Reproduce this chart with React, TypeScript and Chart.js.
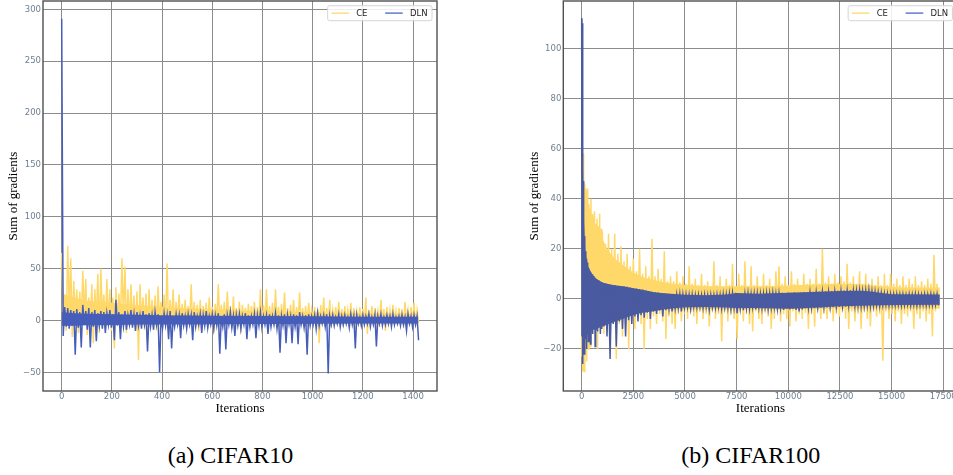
import React, { useEffect, useRef } from 'react';
import { Chart, registerables } from 'chart.js';

Chart.register(...registerables);

// ---------------- (a) CIFAR10 ----------------
// spikes: high and low excursion inside each bin of 12 iterations
const L_STEP = 12;
const ceHiL = [
  65, 25, 72, 60, 38, 30, 28, 48, 40, 22,
  35, 30, 45, 50, 25, 40, 30, 22, 32, 26,
  60, 52, 30, 35, 24, 28, 35, 22, 26, 30,
  20, 24, 33, 18, 25, 55, 20, 30, 18, 25,
  16, 20, 14, 35, 18, 15, 20, 14, 17, 22,
  13, 16, 35, 15, 18, 28, 14, 23, 12, 18,
  15, 12, 16, 14, 18, 13, 30, 15, 30, 14,
  17, 30, 13, 16, 27, 12, 15, 20, 13, 27,
  12, 14, 17, 10, 13, 11, 15, 22, 12, 20,
  10, 13, 18, 11, 14, 10, 17, 12, 9, 13,
  11, 22, 10, 14, 12, 9, 20, 11, 13, 10,
  15, 9, 12, 11, 18, 10, 13, 17, 10,
];
const ceLoL = [
  5, -10, 8, -16, 2, -12, -5, 4, -14, -6,
  -22, 0, -12, 3, -8, -5, -10, -27, -4, -8,
  2, -12, -5, -3, -10, -38, -4, -8, -18, -3,
  -6, -10, -2, -8, -4, -10, -3, -6, -2, -9,
  -4, -7, -2, -8, -3, -10, -4, -2, -7, -3,
  -12, -2, -6, -3, -5, -2, -8, -3, -5, -12,
  -2, -4, -7, -2, -5, -3, -10, -2, -6, -3,
  -5, -2, -7, -3, -8, -2, -4, -6, -2, -5,
  -3, -6, -2, -4, -3, -22, -2, -5, -3, -7,
  -2, -4, -3, -6, -2, -5, -3, -4, -2, -6,
  -3, -13, -2, -4, -3, -6, -2, -10, -3, -4,
  -2, -5, -3, -7, -2, -4, -3, -5, -2,
];
const dlnHiL = [
  291, 13, 12, 10, 9, 11, 8, 15, 9, 12,
  8, 10, 7, 9, 8, 7, 10, 6, 20, 8,
  6, 9, 5, 10, 6, 8, 5, 9, 6, 7,
  5, 8, 6, 4, 7, 5, 9, 4, 6, 5,
  7, 4, 6, 5, 8, 4, 6, 5, 9, 4,
  6, 5, 7, 4, 6, 5, 8, 4, 5, 6,
  4, 7, 5, 4, 6, 5, 8, 4, 5, 6,
  4, 7, 5, 4, 6, 5, 4, 6, 5, 8,
  4, 5, 6, 4, 5, 7, 4, 5, 6, 4,
  5, 3, 6, 4, 5, 3, 6, 4, 5, 3,
  5, 4, 6, 3, 5, 4, 6, 3, 5, 4,
  6, 3, 4, 5, 3, 6, 4, 5, 4,
];
const dlnLoL = [
  -15, -6, -8, -5, -33, -7, -26, -4, -9, -26,
  -6, -20, -5, -8, -12, -4, -7, -19, -5, -18,
  -6, -9, -4, -7, -10, -5, -8, -4, -30, -6,
  -9, -4, -50, -7, -5, -18, -27, -6, -4, -17,
  -5, -8, -4, -19, -6, -4, -12, -5, -7, -4,
  -8, -5, -32, -6, -28, -4, -7, -15, -5, -8,
  -4, -18, -6, -4, -17, -5, -7, -4, -13, -6,
  -4, -8, -31, -5, -22, -4, -22, -6, -23, -4,
  -7, -33, -5, -4, -8, -5, -3, -6, -51, -4,
  -5, -3, -6, -4, -3, -7, -4, -27, -3, -5,
  -4, -3, -6, -4, -25, -3, -5, -4, -3, -6,
  -4, -3, -5, -4, -10, -3, -6, -4, -19,
];
// dense core of each series (envelope of the bulk of the noise)
const bandIterL = [0, 50, 100, 200, 300, 400, 600, 800, 1000, 1200, 1421];
const ceBandTopL = [26, 22, 19, 17, 15, 13, 10.5, 9, 8, 7, 6.5];
const ceBandBotL = [-4.5, -4.5, -4, -4, -3.5, -3.5, -3, -3, -2.5, -2.5, -2.5];
const dlnBandTopL = [8, 7, 6.5, 6, 5.5, 5, 4.5, 4.2, 4, 3.7, 3.5];
const dlnBandBotL = [-5, -5, -4.5, -4.3, -4, -4, -3.6, -3.4, -3.2, -3, -3];
const leftXTicks = [0, 200, 400, 600, 800, 1000, 1200, 1400];
const leftYTicks = [-50, 0, 50, 100, 150, 200, 250, 300];

// ---------------- (b) CIFAR100 ----------------
const rEarlyIter = [0, 25, 50, 75, 100, 140, 180, 220, 260, 300, 350, 400, 450, 500, 560, 620, 680, 740, 800, 870, 940];
const R_LATE_START = 1000;
const R_LATE_STEP = 150;
const R_LATE_COUNT = 109;
const ceHiR = [
  54, 56, 50, 58, 52, 46, 44, 43, 40, 44, 38, 36, 40, 34, 33, 35, 30, 32, 29, 34, 28,
  27, 22, 26, 20, 26, 18, 21, 15, 18, 13,
  16, 11, 20, 10, 13, 9, 24, 9, 12, 8,
  19, 7, 9, 7, 11, 6.5, 9, 6, 13, 6,
  8, 5.5, 10, 5.5, 7, 5, 15, 5.5, 9, 5,
  8, 5.5, 14, 5, 10, 5.5, 15, 5, 13, 5.5,
  9, 5, 10, 5.5, 8, 5, 11, 13, 6, 9,
  5.5, 11, 6, 8, 5.5, 10, 6, 8, 6, 12,
  6, 20, 6.5, 9, 6, 10, 6.5, 9, 7, 14,
  6.5, 9, 6, 11, 6, 10, 6, 8, 5.5, 9,
  5.5, 10, 5.5, 10, 6, 8, 5.5, 9, 5.5, 8,
  6, 9, 5.5, 7, 5.5, 8, 6, 17.6, 6,
];
const ceLoR = [
  -23, -28, -29, -27, -29, -22, -18, -25, -15, -20, -12, -19, -10, -14, -9, -12, -8, -20, -10, -8, -12,
  -14, -10, -18, -9, -24, -10, -15, -8, -20, -9,
  -12, -7, -10, -20, -8, -12, -7, -10, -6, -9,
  -16, -7, -10, -12, -6, -9, -6, -8, -5.5, -7,
  -10, -5, -8, -6, -11, -5, -8, -6, -17, -5,
  -9, -6, -8, -16, -5, -9, -6, -10, -13, -5,
  -8, -10, -5, -7, -12, -8, -5, -9, -6, -8,
  -11, -5, -9, -6, -8, -5.5, -12, -6, -11, -5,
  -8, -6, -8, -5, -9, -6, -7, -5, -8, -12,
  -5, -9, -6, -12, -5, -8, -11, -5, -7, -6,
  -24.7, -5, -8, -6, -9, -5, -10, -6, -7, -5,
  -12, -6, -8, -5, -9, -6, -15, -5, -4,
];
const dlnHiR = [
  112, 110, 66, 47, 34, 25, 19, 16, 14.5, 13.3, 12.2, 11.2, 10.5, 9.8, 9, 8.5, 8.1, 7.7, 7.3, 7, 6.7,
  6.4, 6.0, 5.8, 5.6, 5.5, 5.1, 5.0, 4.9, 4.8, 4.5,
  4.2, 4.1, 3.8, 3.7, 3.3, 3.1, 2.8, 2.6, 2.5, 2.3,
  2.2, 2.0, 1.9, 1.9, 1.7, 1.8, 1.6, 1.7, 1.5, 1.6,
  1.4, 1.5, 1.4, 1.6, 1.3, 1.5, 1.4, 1.6, 1.5, 1.8,
  1.7, 2.0, 2.2, 2.4, 2.3, 2.1, 2.0, 2.2, 1.9, 2.0,
  2.1, 1.9, 2.0, 2.2, 2.1, 2.3, 2.0, 2.2, 2.4, 2.3,
  2.5, 2.4, 2.6, 2.4, 2.5, 2.7, 2.5, 2.6, 2.8, 2.6,
  2.9, 2.8, 3.0, 2.8, 3.1, 2.9, 3.2, 3.1, 3.3, 3.2,
  3.4, 3.2, 3.1, 3.3, 3.0, 3.2, 3.4, 2.9, 2.7, 2.5,
  2.3, 2.1, 2.0, 1.9, 1.8, 1.9, 1.7, 1.8, 1.6, 1.8,
  1.7, 1.9, 1.7, 1.6, 1.8, 1.7, 1.9, 1.6, 1.8,
];
const dlnLoR = [
  -15, -24, -26, -20, -22, -18, -16, -20, -14, -17, -13, -18, -12, -14, -12, -19, -12, -13, -11, -14, -12,
  -11, -15, -24, -10, -19, -9, -12, -15, -8.5, -10,
  -7, -9, -6.5, -7.5, -5.5, -8, -5, -6, -4.6, -7,
  -4.5, -4, -5, -3.8, -3.6, -5, -3.5, -3.3, -4, -3.2,
  -3.4, -3.1, -3.6, -3.2, -4.2, -3.3, -3.5, -3.2, -3.8, -3.4,
  -3.6, -4.0, -3.5, -5.7, -3.8, -4.5, -3.6, -3.8, -3.4, -4.2,
  -3.5, -3.7, -3.3, -3.9, -3.5, -3.4, -4.0, -3.6, -4.4, -3.8,
  -4.2, -3.9, -4.4, -5.0, -4.2, -3.8, -3.6, -3.4, -3.7, -3.3,
  -3.5, -3.2, -3.4, -3.1, -3.3, -3.0, -3.2, -2.9, -3.1, -2.8,
  -3.0, -2.9, -2.7, -3.0, -2.8, -2.6, -2.9, -2.7, -2.5, -2.8,
  -2.6, -2.4, -2.7, -2.5, -2.6, -2.4, -2.7, -2.5, -2.3, -2.6,
  -2.4, -2.7, -2.5, -2.3, -2.6, -2.4, -2.5, -2.3, -2.6,
];
const ceBandIterR = [0, 100, 200, 400, 600, 800, 1000, 1300, 1600, 2000, 2500, 3000, 3500, 4000, 5000, 6000, 7500, 9000, 10000, 11500, 12500, 13500, 14500, 15500, 17336];
const ceBandTopR = [50, 48, 40, 33, 30, 27, 24, 19, 16, 13.5, 10.5, 8.5, 7.5, 6.5, 5.5, 5, 5, 5, 5.3, 5.8, 6, 5.8, 5, 4.5, 4.5];
const ceBandBotR = [-22, -20, -15, -12, -11.5, -11, -10.5, -9.5, -8.5, -7.5, -6, -5, -4.6, -4.4, -4.2, -4.2, -4.2, -4.2, -4.2, -4.1, -4, -3.9, -3.9, -3.9, -3.9];
const dlnBandIterR = [0, 30, 50, 75, 100, 140, 180, 250, 350, 500, 700, 1000, 1500, 2000, 2500, 3000, 3500, 4000, 5000, 6000, 7000, 7500, 8500, 10000, 11500, 12500, 13500, 14000, 14500, 15000, 17336];
const dlnBandTopR = [100, 100, 60, 45, 33, 25, 19, 15, 12, 9.8, 8, 6.5, 5.5, 5, 4.2, 3.5, 2.6, 2.2, 1.6, 1.4, 1.7, 2.3, 2, 2.4, 2.8, 3.1, 3.2, 2.9, 2.3, 1.8, 1.7];
const dlnBandBotR = [-12, -13, -14, -14, -14, -14, -13.5, -13, -13, -12.5, -12, -11, -9.5, -8, -6.5, -5.5, -5, -4.2, -3.4, -3.3, -3.5, -3.7, -3.7, -4.0, -3.5, -3.0, -2.8, -2.7, -2.6, -2.5, -2.4];
const rightXTicks = [0, 2500, 5000, 7500, 10000, 12500, 15000, 17500];
const rightYTicks = [-20, 0, 20, 40, 60, 80, 100];

const seriesLabels = ['CE', 'DLN'];
const captions = ['(a) CIFAR10', '(b) CIFAR100'];

// ---------------- styling ----------------
const CE_COLOR = 'rgb(255,216,106)';
const DLN_LEFT = 'rgb(70,94,186)';
const DLN_RIGHT = 'rgb(74,90,160)';
const DLN_LEGEND = 'rgb(74,100,200)';
const TICK_COLOR = '#6f7f8f';
const GRID_COLOR = '#8c8c8c';
const TICK_FONT = { family: "'DejaVu Sans', sans-serif", size: 8.5 };
const TITLE_FONT = { family: "'Liberation Serif', serif", size: 13 };

type Pt = { x: number; y: number };

function zigzag(iters: number[], hi: number[], lo: number[], tail: number) {
  const pts: Pt[] = [];
  for (let i = 0; i < hi.length; i++) {
    const x = iters[i];
    const xn = i + 1 < iters.length ? iters[i + 1] : x + tail;
    pts.push({ x, y: hi[i] });
    pts.push({ x: (x + xn) / 2, y: lo[i] });
  }
  return pts;
}

const pairs = (xs: number[], ys: number[]): Pt[] => xs.map((x, i) => ({ x, y: ys[i] }));

const fmt = (v: number) => (v < 0 ? '\u2212' + Math.abs(v) : String(v));

function zeroPad(s: any) {
  s.paddingTop = 0;
  s.paddingBottom = 0;
  s.paddingLeft = 0;
  s.paddingRight = 0;
}

function makePlugin(items: { label: string; color: string }[]) {
  return {
    id: 'frameLegend',
    afterDraw(chart: any) {
      const { ctx, chartArea: a } = chart;
      ctx.save();
      ctx.strokeStyle = '#505050';
      ctx.lineWidth = 1.4;
      ctx.strokeRect(a.left, a.top, a.right - a.left, a.bottom - a.top);
      ctx.font = "8.5px 'DejaVu Sans', sans-serif";
      const lineLen = 17.6, gapLT = 7.2, gapItems = 17.7, padL = 3.7, padR = 4.4;
      let total = padL;
      items.forEach((it, i) => {
        total += lineLen + gapLT + ctx.measureText(it.label).width;
        if (i < items.length - 1) total += gapItems;
      });
      total += padR;
      const bx = a.right - 5 - total;
      const by = a.top + 4.7;
      const bh = 15;
      ctx.beginPath();
      if (ctx.roundRect) ctx.roundRect(bx, by, total, bh, 2);
      else ctx.rect(bx, by, total, bh);
      ctx.fillStyle = 'rgba(255,255,255,0.85)';
      ctx.fill();
      ctx.strokeStyle = '#d6d6d6';
      ctx.lineWidth = 1;
      ctx.stroke();
      let x = bx + padL;
      const cy = by + 7.4;
      items.forEach((it) => {
        ctx.strokeStyle = it.color;
        ctx.lineWidth = 1.3;
        ctx.beginPath();
        ctx.moveTo(x, cy);
        ctx.lineTo(x + lineLen, cy);
        ctx.stroke();
        ctx.fillStyle = '#262626';
        ctx.textBaseline = 'middle';
        ctx.textAlign = 'left';
        const tx = x + lineLen + gapLT;
        ctx.fillText(it.label, tx, cy + 0.5);
        x = tx + ctx.measureText(it.label).width + gapItems;
      });
      ctx.restore();
    },
  };
}

interface PanelProps {
  width: number;
  height: number;
  areaLeft: number;
  areaRight: number;
  areaTop: number;
  areaBottom: number;
  yTitleCenter: number;
  xMin: number;
  xMax: number;
  yMin: number;
  yMax: number;
  xTicks: number[];
  yTicks: number[];
  ce: Pt[];
  dln: Pt[];
  ceTop: Pt[];
  ceBot: Pt[];
  dlnTop: Pt[];
  dlnBot: Pt[];
  dlnColor: string;
}

function Panel(p: PanelProps) {
  const ref = useRef<HTMLCanvasElement | null>(null);
  useEffect(() => {
    if (!ref.current) return;
    const xAxisH = p.height - p.areaBottom;
    const line = { pointRadius: 0, tension: 0, borderWidth: 1.5 };
    const band = { pointRadius: 0, tension: 0, borderWidth: 0 };
    const chart = new Chart(ref.current, {
      type: 'line',
      data: {
        datasets: [
          { label: seriesLabels[0], data: p.ce, borderColor: CE_COLOR, fill: false, order: 3, ...line },
          { label: seriesLabels[1], data: p.dln, borderColor: p.dlnColor, fill: false, order: 1, ...line },
          { label: 'ce-core', data: p.ceTop, borderColor: CE_COLOR, backgroundColor: CE_COLOR, fill: '+1', order: 4, ...band },
          { label: 'ce-core-bottom', data: p.ceBot, borderColor: CE_COLOR, fill: false, order: 4, ...band },
          { label: 'dln-core', data: p.dlnTop, borderColor: p.dlnColor, backgroundColor: p.dlnColor, fill: '+1', order: 2, ...band },
          { label: 'dln-core-bottom', data: p.dlnBot, borderColor: p.dlnColor, fill: false, order: 2, ...band },
        ],
      },
      options: {
        responsive: false,
        animation: false,
        events: [],
        layout: { padding: { left: 0, top: p.areaTop, right: p.width - p.areaRight, bottom: 0 } },
        plugins: { legend: { display: false }, tooltip: { enabled: false } },
        scales: {
          x: {
            type: 'linear',
            position: 'bottom',
            min: p.xMin,
            max: p.xMax,
            afterBuildTicks: (s: any) => {
              s.ticks = p.xTicks.map((v) => ({ value: v }));
            },
            afterFit: (s: any) => {
              s.height = xAxisH;
              zeroPad(s);
            },
            grid: { color: GRID_COLOR, lineWidth: 1, drawTicks: false },
            border: { display: false },
            ticks: { padding: 1, font: TICK_FONT, color: TICK_COLOR, maxRotation: 0, autoSkip: false, callback: (v: any) => fmt(Number(v)) },
            title: { display: true, text: 'Iterations', font: TITLE_FONT, color: '#000', padding: { top: 0, bottom: 13.7 } },
          },
          y: {
            type: 'linear',
            position: 'left',
            min: p.yMin,
            max: p.yMax,
            afterBuildTicks: (s: any) => {
              s.ticks = p.yTicks.map((v) => ({ value: v }));
            },
            afterFit: (s: any) => {
              s.width = p.areaLeft;
              zeroPad(s);
            },
            grid: { color: GRID_COLOR, lineWidth: 1, drawTicks: false },
            border: { display: false },
            ticks: { padding: 2, font: TICK_FONT, color: TICK_COLOR, autoSkip: false, callback: (v: any) => fmt(Number(v)) },
            title: { display: true, text: 'Sum of gradients', font: TITLE_FONT, color: '#000', padding: { top: p.yTitleCenter - 7.8, bottom: 0 } },
          },
        },
      } as any,
      plugins: [
        makePlugin([
          { label: seriesLabels[0], color: CE_COLOR },
          { label: seriesLabels[1], color: DLN_LEGEND },
        ]),
      ],
    });
    return () => chart.destroy();
  }, []);
  return <canvas ref={ref} width={p.width} height={p.height} style={{ display: 'block', width: p.width, height: p.height }} />;
}

const leftIters = ceHiL.map((_, k) => k * L_STEP);
const rightIters = [
  ...rEarlyIter,
  ...Array.from({ length: R_LATE_COUNT }, (_, i) => R_LATE_START + i * R_LATE_STEP),
];

export default function App() {
  const captionStyle: React.CSSProperties = {
    position: 'absolute',
    top: 443,
    width: 240,
    textAlign: 'center',
    fontFamily: "'Liberation Serif', 'Times New Roman', serif",
    fontSize: 24,
    lineHeight: '24px',
    color: '#000',
    whiteSpace: 'nowrap',
  };
  return (
    <div style={{ position: 'fixed', left: 0, top: 0, width: 953, height: 475, overflow: 'hidden', background: '#fff' }}>
      <div style={{ position: 'absolute', left: 0, top: 0 }}>
        <Panel
          width={480}
          height={430}
          areaLeft={43}
          areaRight={437}
          areaTop={1}
          areaBottom={391}
          yTitleCenter={14}
          xMin={-74.5}
          xMax={1495.5}
          yMin={-68}
          yMax={308}
          xTicks={leftXTicks}
          yTicks={leftYTicks}
          ce={zigzag(leftIters, ceHiL, ceLoL, L_STEP)}
          dln={zigzag(leftIters, dlnHiL, dlnLoL, L_STEP)}
          ceTop={pairs(bandIterL, ceBandTopL)}
          ceBot={pairs(bandIterL, ceBandBotL)}
          dlnTop={pairs(bandIterL, dlnBandTopL)}
          dlnBot={pairs(bandIterL, dlnBandBotL)}
          dlnColor={DLN_LEFT}
        />
      </div>
      <div style={{ position: 'absolute', left: 480, top: 0 }}>
        <Panel
          width={500}
          height={430}
          areaLeft={83.3}
          areaRight={477.5}
          areaTop={1}
          areaBottom={391}
          yTitleCenter={54.7}
          xMin={-890}
          xMax={18190}
          yMin={-36.8}
          yMax={118.9}
          xTicks={rightXTicks}
          yTicks={rightYTicks}
          ce={zigzag(rightIters, ceHiR, ceLoR, R_LATE_STEP)}
          dln={zigzag(rightIters, dlnHiR, dlnLoR, R_LATE_STEP)}
          ceTop={pairs(ceBandIterR, ceBandTopR)}
          ceBot={pairs(ceBandIterR, ceBandBotR)}
          dlnTop={pairs(dlnBandIterR, dlnBandTopR)}
          dlnBot={pairs(dlnBandIterR, dlnBandBotR)}
          dlnColor={DLN_RIGHT}
        />
      </div>
      <div style={{ ...captionStyle, left: 230.5 - 120 }}>{captions[0]}</div>
      <div style={{ ...captionStyle, left: 750.8 - 120 }}>{captions[1]}</div>
    </div>
  );
}
